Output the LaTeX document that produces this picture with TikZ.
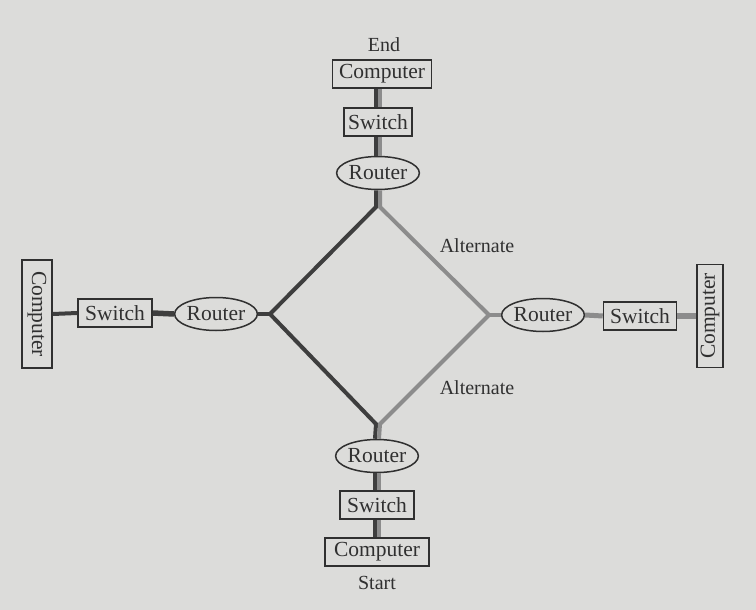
\documentclass[tikz,border=0pt]{standalone}
\usepackage{fontspec}
\setmainfont{Liberation Serif}
\usetikzlibrary{shapes.geometric}
\definecolor{bg}{RGB}{220,220,218}
\definecolor{ink}{RGB}{48,48,48}
\definecolor{darkline}{RGB}{62,62,62}
\definecolor{greyline}{RGB}{140,140,140}
\tikzset{
  boxnode/.style={draw=ink, line width=1.5pt, text=ink, minimum height=28pt, inner xsep=4pt, inner ysep=2pt, font=\fontsize{21.5}{24}\selectfont},
  vbox/.style={boxnode, minimum height=0pt, inner ysep=2pt},
  routernode/.style={ellipse, draw=ink, line width=1.5pt, text=ink, minimum width=75pt, minimum height=33pt, inner sep=0pt, font=\fontsize{21.5}{24}\selectfont},
  lbl/.style={text=ink, font=\fontsize{20}{24}\selectfont},
  dk/.style={draw=darkline, line width=4pt, line join=miter},
  gr/.style={draw=greyline, line width=4pt, line join=miter},
}
\begin{document}
\begin{tikzpicture}[x=1pt,y=-1pt]
\fill[bg] (0,0) rectangle (756,610);
\useasboundingbox (0,0) rectangle (756,610);
% vertical chain
\node[lbl] (endlbl) at (384,45) {End};
\node[boxnode, minimum width=99pt] (ctop) at (382,74) {Computer};
\node[boxnode, minimum width=64pt] (stop) at (378,122) {Switch};
\node[routernode, minimum width=77pt] (rtop) at (378,173) {Router};
\node[routernode] (rbot) at (377,456) {Router};
\node[boxnode, minimum width=74pt] (sbot) at (377,505) {Switch};
\node[boxnode, minimum width=104pt] (cbot) at (377,552) {Computer};
\node[lbl] (startlbl) at (377,583) {Start};
% left chain
\node[vbox, rotate=-90, minimum width=108pt, minimum height=30pt] (cleft) at (37,314) {Computer};
\node[boxnode, minimum width=74pt] (sleft) at (115,313) {Switch};
\node[routernode, minimum width=73pt] (rleft) at (216,314) {Router};
% right chain
\node[routernode] (rright) at (543,315) {Router};
\node[boxnode, minimum width=73pt] (sright) at (640,316) {Switch};
\node[vbox, rotate=90, minimum width=103pt, minimum height=26pt, inner ysep=0pt] (cright) at (710,316) {Computer};
% junctions
\coordinate (jt) at (378,207);
\coordinate (jb) at (378,424);
\coordinate (jl) at (270,314);
\coordinate (jr) at (489,315);
% labels
\node[lbl] (alt1) at (477,246) {Alternate};
\node[lbl] (alt2) at (477,388) {Alternate};
% double vertical connectors
\draw[dk] ([xshift=-2pt]stop.north) -- ([xshift=-2pt]stop.north |- ctop.south);
\draw[gr] ([xshift=2pt]stop.north) -- ([xshift=2pt]stop.north |- ctop.south);
\draw[dk] ([xshift=-2pt]stop.south) -- ([xshift=-2pt]rtop.north);
\draw[gr] ([xshift=2pt]stop.south) -- ([xshift=2pt]rtop.north);
\draw[dk] ([xshift=-2pt]rbot.south) -- ([xshift=-2pt]sbot.north);
\draw[gr] ([xshift=2pt]rbot.south) -- ([xshift=2pt]sbot.north);
\draw[dk] ([xshift=-2pt]sbot.south) -- ([xshift=-2pt]cbot.north);
\draw[gr] ([xshift=2pt]sbot.south) -- ([xshift=2pt]cbot.north);
% diamond
\draw[dk] ([xshift=-2pt]rtop.south) -- ([xshift=-2pt]jt) -- (jl) -- ([xshift=-2pt]jb) -- ([xshift=-2pt]rbot.north);
\draw[dk] (jl) -- (rleft.east);
\draw[gr] ([xshift=2pt]rtop.south) -- ([xshift=2pt]jt) -- (jr) -- ([xshift=2pt]jb) -- ([xshift=2pt]rbot.north);
\draw[gr] (jr) -- (rright.west);
% left chain connectors
\draw[dk] (cleft.north) -- (sleft.west);
\draw[dk, line width=5.5pt] (sleft.east) -- (rleft.west);
% right chain connectors
\draw[gr, line width=5pt] (rright.east) -- (sright.west);
\draw[gr, line width=5.5pt] (sright.east) -- (cright.north);
\end{tikzpicture}
\end{document}
